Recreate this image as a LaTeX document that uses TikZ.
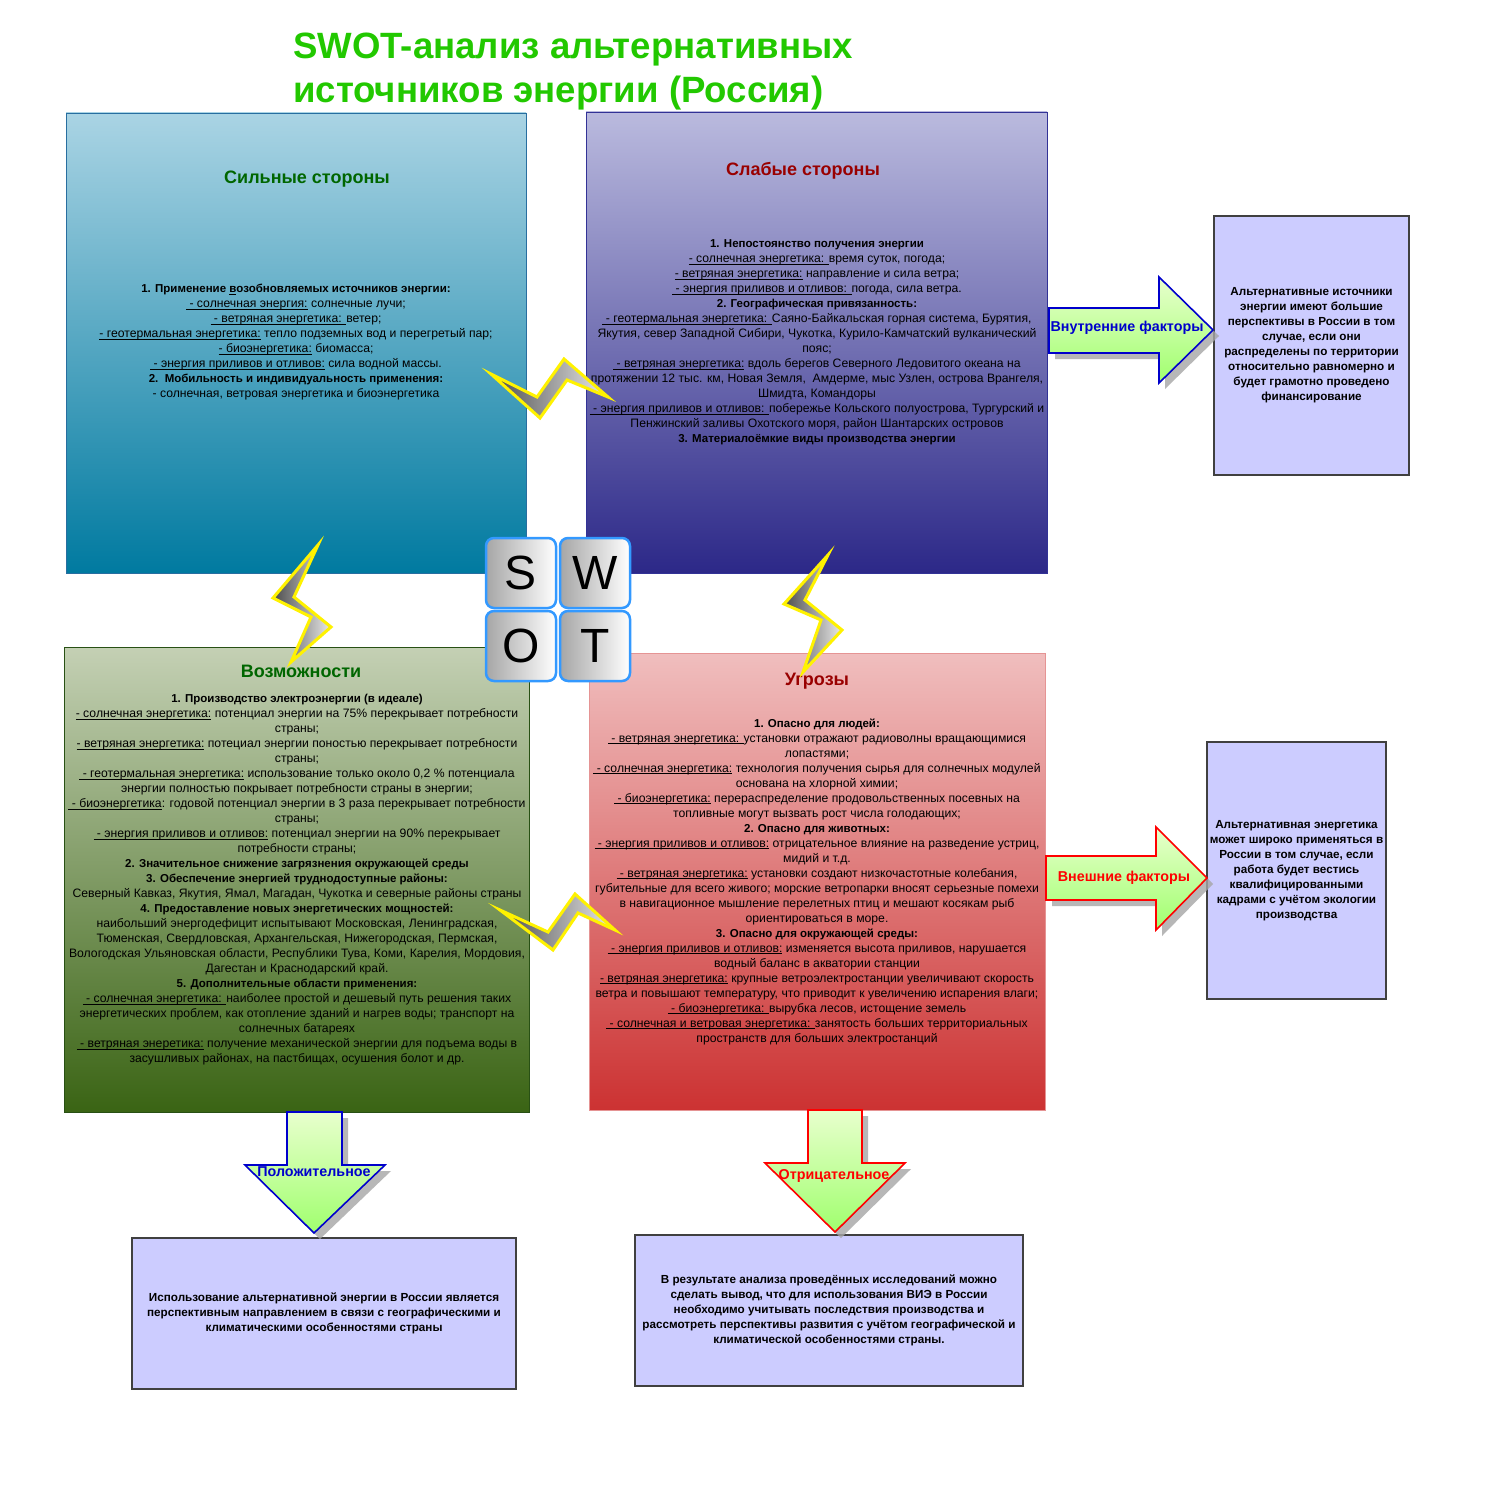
\documentclass[tikz,border=0pt]{standalone}
\usepackage{fontspec}
\setmainfont{Liberation Sans}
\definecolor{titlegreen}{RGB}{34,200,0}
\definecolor{sTop}{RGB}{170,212,228}
\definecolor{sBot}{RGB}{0,122,160}
\definecolor{sBord}{RGB}{40,110,160}
\definecolor{wTop}{RGB}{186,186,222}
\definecolor{wBot}{RGB}{44,40,136}
\definecolor{wBord}{RGB}{50,50,150}
\definecolor{oTop}{RGB}{196,208,180}
\definecolor{oBot}{RGB}{58,100,20}
\definecolor{oBord}{RGB}{40,80,20}
\definecolor{tTop}{RGB}{240,190,190}
\definecolor{tBot}{RGB}{204,50,50}
\definecolor{lav}{RGB}{204,204,255}
\definecolor{dgreen}{RGB}{0,102,0}
\definecolor{dred}{RGB}{153,0,0}
\definecolor{arBlue}{RGB}{0,0,204}
\definecolor{arRed}{RGB}{255,0,0}
\definecolor{arTop}{RGB}{232,255,205}
\definecolor{arBot}{RGB}{160,255,110}
\definecolor{tileBlue}{RGB}{51,153,255}
\newsavebox\myubox
\newcommand{\un}[1]{\sbox\myubox{#1}\rlap{\rule[-1.6pt]{\wd\myubox}{0.7pt}}\usebox\myubox}
\newcommand{\bt}[1]{{\fontsize{11.5}{15}\selectfont\bfseries #1}}
\begin{document}
\begin{tikzpicture}[x=1pt,y=-1pt,
  quad/.style={draw, line width=0.8pt, inner sep=0pt},
  qtitle/.style={font=\fontsize{18}{20}\selectfont\bfseries, inner sep=0pt},
  body/.style={align=center, font=\fontsize{12.2}{15}\selectfont, inner sep=0pt},
  resbox/.style={draw=black!75, line width=1.6pt, fill=lav, align=center,
    font=\fontsize{11.7}{15}\selectfont\bfseries, inner sep=0pt},
  bigarrow/.style={line width=1.6pt, top color=arTop, bottom color=arBot, line join=miter},
  arshadow/.style={fill=black!35, opacity=0.8},
  artext/.style={font=\fontsize{14.3}{16}\selectfont\bfseries, inner sep=0pt},
  tile/.style={draw=tileBlue, line width=2.5pt, rounded corners=8pt, left color=black!35, right color=white,
    minimum width=70pt, minimum height=70pt, inner sep=0pt, font=\fontsize{48}{48}\selectfont},
  bolt/.style={draw=yellow, line width=3pt, line join=miter, left color=black!70, right color=black!8}
]
\useasboundingbox (0,0) rectangle (1509,1490);
\fill[white] (0,0) rectangle (1509,1490);

% title
\node[anchor=west, inner sep=0pt, text=titlegreen, font=\fontsize{36.6}{40}\selectfont\bfseries] (title1) at (293,50) {SWOT-анализ альтернативных};
\node[anchor=west, inner sep=0pt, text=titlegreen, font=\fontsize{36.6}{40}\selectfont\bfseries] (title2) at (293,93) {источников энергии (Россия)};

% quadrants
\node[quad, draw=sBord, top color=sTop, bottom color=sBot, minimum width=460pt, minimum height=460pt] (Sbox) at (296,343) {};
\node[quad, draw=wBord, top color=wTop, bottom color=wBot, minimum width=461pt, minimum height=461pt] (Wbox) at (816.5,342.5) {};
\node[quad, draw=oBord, top color=oTop, bottom color=oBot, minimum width=465pt, minimum height=465pt] (Obox) at (296.5,879.5) {};
\node[quad, draw=tTop!70!tBot, top color=tTop, bottom color=tBot, minimum width=456pt, minimum height=457pt] (Tbox) at (817,881.5) {};

\node[qtitle, text=dgreen] (Stitle) at (307,179) {Сильные стороны};
\node[qtitle, text=dred] (Wtitle) at (803,171) {Слабые стороны};
\node[qtitle, text=dgreen] (Otitle) at (301,671) {Возможности};
\node[qtitle, text=dred] (Ttitle) at (817,681) {Угрозы};

\node[body] (Stext) at (296,342.5) {%
\bt{1. Применение \un{в}озобновляемых источников энергии:}\\
\un{ - солнечная энергия:} солнечные лучи;\\
\un{ - ветряная энергетика: }ветер;\\
\un{- геотермальная энергетика:} тепло подземных вод и перегретый пар;\\
\un{- биоэнергетика:} биомасса;\\
\un{ - энергия приливов и отливов:} сила водной массы.\\
\bt{2.\ \ Мобильность и индивидуальность применения:}\\
- солнечная, ветровая энергетика и биоэнергетика};

\node[body] (Wtext) at (817,342.5) {%
\bt{1. Непостоянство получения энергии}\\
\un{- солнечная энергетика: }время суток, погода;\\
\un{- ветряная энергетика:} направление и сила ветра;\\
\un{ - энергия приливов и отливов: }погода, сила ветра.\\
\bt{2. Географическая привязанность:}\\
\un{ - геотермальная энергетика: }Саяно-Байкальская горная система, Бурятия,\\
Якутия, север Западной Сибири, Чукотка, Курило-Камчатский вулканический\\
пояс;\\
\un{ - ветряная энергетика:} вдоль берегов Северного Ледовитого океана на\\
протяжении 12 тыс. км, Новая Земля,\ \ Амдерме, мыс Узлен, острова Врангеля,\\
Шмидта, Командоры\\
\un{ - энергия приливов и отливов: }побережье Кольского полуострова, Тургурский и\\
Пенжинский заливы Охотского моря, район Шантарских островов\\
\bt{3. Материалоёмкие виды производства энергии}};

\node[body] (Otext) at (297,880) {%
\bt{1. Производство электроэнергии (в идеале)}\\
\un{- солнечная энергетика:} потенциал энергии на 75\% перекрывает потребности\\
страны;\\
\un{- ветряная энергетика:} потециал энергии поностью перекрывает потребности\\
страны;\\
\un{ - геотермальная энергетика:} использование только около 0,2 \% потенциала\\
энергии полностью покрывает потребности страны в энергии;\\
\un{ - биоэнергетика}: годовой потенциал энергии в 3 раза перекрывает потребности\\
страны;\\
\un{ - энергия приливов и отливов:} потенциал энергии на 90\% перекрывает\\
потребности страны;\\
\bt{2. Значительное снижение загрязнения окружающей среды}\\
\bt{3. Обеспечение энергией труднодоступные районы:}\\
Северный Кавказ, Якутия, Ямал, Магадан, Чукотка и северные районы страны\\
\bt{4. Предоставление новых энергетических мощностей:}\\
наибольший энергодефицит испытывают Московская, Ленинградская,\\
Тюменская, Свердловская, Архангельская, Нижегородская, Пермская,\\
Вологодская Ульяновская области, Республики Тува, Коми, Карелия, Мордовия,\\
Дагестан и Краснодарский край.\\
\bt{5. Дополнительные области применения:}\\
\un{ - солнечная энергетика: }наиболее простой и дешевый путь решения таких\\
энергетических проблем, как отопление зданий и нагрев воды; транспорт на\\
солнечных батареях\\
\un{ - ветряная энеретика:} получение механической энергии для подъема воды в\\
засушливых районах, на пастбищах, осушения болот и др.};

\node[body] (Ttext) at (817,881.5) {%
\bt{1. Опасно для людей:}\\
\un{ - ветряная энергетика: }установки отражают радиоволны вращающимися\\
лопастями;\\
\un{ - солнечная энергетика:} технология получения сырья для солнечных модулей\\
основана на хлорной химии;\\
\un{ - биоэнергетика:} перераспределение продовольственных посевных на\\
топливные могут вызвать рост числа голодающих;\\
\bt{2. Опасно для животных:}\\
\un{ - энергия приливов и отливов:} отрицательное влияние на разведение устриц,\\
мидий и т.д.\\
\un{ - ветряная энергетика:} установки создают низкочастотные колебания,\\
губительные для всего живого; морские ветропарки вносят серьезные помехи\\
в навигационное мышление перелетных птиц и мешают косякам рыб\\
ориентироваться в море.\\
\bt{3. Опасно для окружающей среды:}\\
\un{ -  энергия приливов и отливов:} изменяется высота приливов, нарушается\\
водный баланс в акватории станции\\
\un{- ветряная энергетика:} крупные ветроэлектростанции увеличивают скорость\\
ветра и повышают температуру, что приводит к увеличению испарения влаги;\\
\un{ - биоэнергетика: }вырубка лесов, истощение земель\\
\un{ - солнечная и ветровая энергетика: }занятость больших территориальных\\
пространств для больших электростанций};

% result boxes
\node[resbox, minimum width=195pt, minimum height=259pt] (R1) at (1311.5,345.5) {%
Альтернативные источники\\энергии имеют большие\\перспективы в России в том\\случае, если они\\распределены по территории\\относительно равномерно и\\будет грамотно проведено\\финансирование};
\node[resbox, minimum width=179pt, minimum height=257pt] (R2) at (1296.5,870.5) {%
Альтернативная энергетика\\может широко применяться в\\России в том случае, если\\работа будет вестись\\квалифицированными\\кадрами с учётом экологии\\производства};
\node[resbox, minimum width=384pt, minimum height=151pt] (B1) at (324,1313.5) {%
Использование альтернативной энергии в России является\\перспективным направлением в связи с географическими и\\климатическими особенностями страны};
\node[resbox, minimum width=388pt, minimum height=151pt] (B2) at (829,1310.5) {%
В результате анализа проведённых исследований можно\\сделать вывод, что для использования ВИЭ в России\\необходимо учитывать последствия производства и\\рассмотреть перспективы развития с учётом географической и\\климатической особенностями страны.};

% block arrows
\fill[arshadow, shift={(6,6)}] (1049,308) -- (1159,308) -- (1159,277) -- (1213,330) -- (1159,383) -- (1159,353) -- (1049,353) -- cycle;
\filldraw[bigarrow, draw=arBlue] (1049,308) -- (1159,308) -- (1159,277) -- (1213,330) -- (1159,383) -- (1159,353) -- (1049,353) -- cycle;
\node[artext, text=arBlue] (inner) at (1127,328) {Внутренние факторы};

\fill[arshadow, shift={(6,6)}] (1046,856) -- (1156,856) -- (1156,827) -- (1207,878) -- (1156,930) -- (1156,900) -- (1046,900) -- cycle;
\filldraw[bigarrow, draw=arRed] (1046,856) -- (1156,856) -- (1156,827) -- (1207,878) -- (1156,930) -- (1156,900) -- (1046,900) -- cycle;
\node[artext, text=arRed] (outer) at (1124,878) {Внешние факторы};

\fill[arshadow, shift={(6,6)}] (287,1112) -- (342,1112) -- (342,1165) -- (385,1165) -- (314,1233) -- (245,1165) -- (287,1165) -- cycle;
\filldraw[bigarrow, draw=arBlue] (287,1112) -- (342,1112) -- (342,1165) -- (385,1165) -- (314,1233) -- (245,1165) -- (287,1165) -- cycle;
\node[artext, text=arBlue] (pos) at (314,1172) {Положительное};

\fill[arshadow, shift={(6,6)}] (808,1110) -- (862,1110) -- (862,1163) -- (905,1163) -- (835,1232) -- (765,1163) -- (808,1163) -- cycle;
\filldraw[bigarrow, draw=arRed] (808,1110) -- (862,1110) -- (862,1163) -- (905,1163) -- (835,1232) -- (765,1163) -- (808,1163) -- cycle;
\node[artext, text=arRed] (neg) at (834,1176) {Отрицательное};

% lightning bolts
\filldraw[bolt] (491,374) -- (537,397) -- (564,359) -- (608,397) -- (567,380) -- (540,418) -- cycle;
\filldraw[bolt] (318,545) -- (273,598) -- (311,617) -- (291,662) -- (331,627) -- (294,597) -- cycle;
\filldraw[bolt] (828,555) -- (784,604) -- (821,620) -- (803,672) -- (842,630) -- (805,600) -- cycle;
\filldraw[bolt] (500,910) -- (548,932) -- (575,894) -- (615,930) -- (578,913) -- (553,950) -- cycle;

% SWOT tiles
\node[tile] (tS) at (521,573) {S};
\node[tile] (tW) at (595,573) {W};
\node[tile] (tO) at (521,646) {O};
\node[tile] (tT) at (595,646) {T};
\end{tikzpicture}
\end{document}
